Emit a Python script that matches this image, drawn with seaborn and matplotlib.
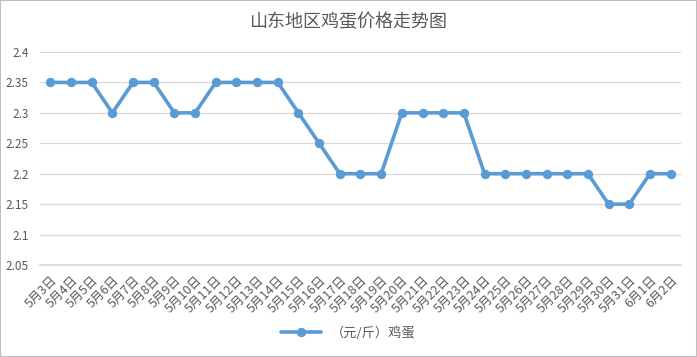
import matplotlib
matplotlib.use("Agg")
import matplotlib.pyplot as plt
import numpy as np
import pandas as pd
import seaborn as sns

# data
dates = ["5月3日", "5月4日", "5月5日", "5月6日", "5月7日", "5月8日", "5月9日", "5月10日",
         "5月11日", "5月12日", "5月13日", "5月14日", "5月15日", "5月16日", "5月17日",
         "5月18日", "5月19日", "5月20日", "5月21日", "5月22日", "5月23日", "5月24日",
         "5月25日", "5月26日", "5月27日", "5月28日", "5月29日", "5月30日", "5月31日",
         "6月1日", "6月2日"]
prices = [2.35, 2.35, 2.35, 2.30, 2.35, 2.35, 2.30, 2.30,
          2.35, 2.35, 2.35, 2.35, 2.30, 2.25, 2.20,
          2.20, 2.20, 2.30, 2.30, 2.30, 2.30, 2.20,
          2.20, 2.20, 2.20, 2.20, 2.20, 2.15, 2.15,
          2.20, 2.20]
series_name = "（元/斤）鸡蛋"
title = "山东地区鸡蛋价格走势图"

sns.set_theme(style="white")
plt.rcParams["font.family"] = ["Noto Sans CJK SC", "DejaVu Sans"]

df = pd.DataFrame({"date": dates, "price": prices})
df["pos"] = np.arange(len(df))

fig = plt.figure(figsize=(6.97, 3.57), dpi=100)
ax = fig.add_axes([0.0574, 0.2577, 0.9196, 0.5966])

sns.lineplot(data=df, x="pos", y="price", ax=ax, color="#5B9BD5", linewidth=2.6,
             marker="o", markersize=6, markeredgecolor="#5B9BD5", label=series_name,
             legend=False)

ax.set_xlim(-0.5, len(dates) - 0.5)
ax.set_ylim(2.05, 2.4)
ax.set_yticks(np.arange(2.05, 2.401, 0.05))
ax.set_yticklabels(["2.05", "2.1", "2.15", "2.2", "2.25", "2.3", "2.35", "2.4"])
ax.yaxis.grid(True, color="#d9d9d9", linewidth=0.9)
ax.set_xticks(df["pos"])
ax.set_xticklabels(dates, rotation=45, ha="right", rotation_mode="anchor")
ax.set_xticks(np.arange(-0.5, len(dates), 1), minor=True)
ax.tick_params(axis="x", which="major", length=0, pad=6, labelsize=9, colors="#595959")
ax.tick_params(axis="x", which="minor", length=4, color="#d9d9d9", direction="out")
ax.tick_params(axis="y", length=0, labelsize=8.5, colors="#595959", pad=8)
ax.set_xlabel("")
ax.set_ylabel("")
for s in ["top", "right", "left"]:
    ax.spines[s].set_visible(False)
ax.spines["bottom"].set_color("#d9d9d9")

fig.text(0.5, 0.938, title, ha="center", va="center", fontsize=13, color="#595959")
handles, labels = ax.get_legend_handles_labels()
fig.legend(handles, labels, loc="center", bbox_to_anchor=(0.5, 0.067), frameon=False,
           fontsize=9.5, labelcolor="#595959", handlelength=3)

fig.patches.append(plt.Rectangle((0, 0), 1, 1, transform=fig.transFigure,
                                 fill=False, edgecolor="#bfbfbf", linewidth=1.5))
fig.savefig("out.png", dpi=100)
